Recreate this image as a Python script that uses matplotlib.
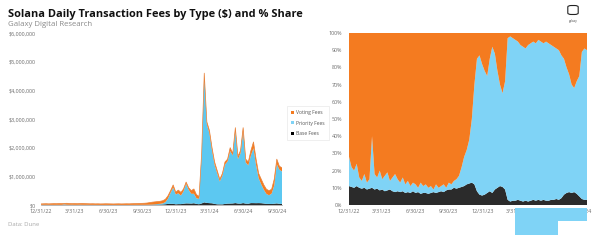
import matplotlib
matplotlib.use('Agg')
import matplotlib.pyplot as plt
from matplotlib.patches import Patch, Rectangle, FancyBboxPatch
from matplotlib.ticker import FuncFormatter
import numpy as np
import pandas as pd

plt.rcParams['font.family'] = ['Open Sans', 'DejaVu Sans']

# ---------------- data (weekly) ----------------
start_date = '2022-12-31'
n_weeks = 94

# total daily fees, thousands of USD
total_fees_k = [
    38, 42, 45, 40, 44, 48, 46, 52, 50, 55,
    60, 52, 48, 50, 46, 52, 55, 48, 45, 42,
    44, 40, 42, 38, 40, 43, 41, 39, 37, 40,
    42, 38, 40, 43, 41, 45, 48, 52, 55, 58,
    62, 70, 85, 100,
    110, 120, 130, 150, 200,
    320, 500, 700, 450, 520, 440,
    560, 800, 600, 500, 560, 360, 300,
    1800, 4600, 2900, 2600, 2000, 1500, 1200, 900,
    1100, 1500, 1600, 2000, 1800, 2700, 1700, 1900, 2700, 1600,
    1500, 1900, 2200, 1600,
    1100, 900, 700, 550, 500, 550,
    900, 1600, 1350, 1300,
]

# base fee share of total (%)
base_share = [
    11, 10.5, 10, 11, 10, 9.5, 10, 9, 9.5, 10,
    9, 9.5, 8.5, 9, 8, 8.5, 9, 8, 7.5, 8,
    7.5, 8, 7, 7.5, 7, 8, 7, 7.5, 6.5, 7,
    7, 6.5, 7, 7.5, 7, 7.5, 8, 7.5, 8.5, 9,
    9, 10, 9.5, 10,
    10.5, 11, 12, 12.5, 13,
    12, 8, 6, 5.5, 6, 7,
    8, 7, 9, 10, 11, 10.5, 9,
    3, 2, 2.5, 2.5, 3, 2.5, 2, 2.5,
    2, 2.5, 3, 2.5, 3, 2.5, 3, 2.5, 2.5, 3,
    3, 3.5, 3, 4,
    6, 7, 7.5, 7, 7.5, 6.5,
    5, 3.5, 3, 3,
]

# base + priority share of total (%), i.e. non-voting share
nonvoting_share = [
    28, 22, 20, 24, 16, 14, 18, 13, 15, 40,
    18, 16, 20, 15, 17, 19, 14, 16, 18, 15,
    13, 16, 12, 14, 11, 13, 12, 10, 13, 11,
    12, 10, 11, 9, 12, 10, 11, 12, 10, 13,
    12, 14, 15, 17,
    22, 28, 32, 38, 50,
    70, 85, 87, 82, 78, 75,
    85, 92, 88, 78, 70, 65, 72,
    97, 98, 97, 96, 95, 93, 92, 91,
    93, 94, 95, 94, 96, 95, 94, 95, 94, 93,
    92, 91, 90, 87,
    85, 80, 76, 70, 68, 72,
    75, 89, 91, 90,
]

series_names = ['Voting Fees', 'Priority Fees', 'Base Fees']
left_ticks = ['12/31/22', '3/31/23', '6/30/23', '9/30/23',
              '12/31/23', '3/31/24', '6/30/24', '9/30/24']
y_ticks_usd = [0, 1e6, 2e6, 3e6, 4e6, 5e6, 6e6]
y_ticks_pct = [0, 10, 20, 30, 40, 50, 60, 70, 80, 90, 100]

# ---------------- derived ----------------
dates = pd.date_range(start_date, periods=n_weeks, freq='7D')
total = np.array(total_fees_k, dtype=float) * 1000
bs = np.array(base_share, dtype=float)
nv = np.array(nonvoting_share, dtype=float)
base = total * bs / 100
priority = total * (nv - bs) / 100
voting = total * (100 - nv) / 100
pct_base = bs
pct_prio = nv - bs
pct_vote = 100 - nv

ORANGE = '#F47B20'
BLUE_L = '#5CC8F1'
BLUE_R = '#7FD3F6'
DARK = '#2B2B2B'
GRAY = '#6b6b6b'

W, H = 600, 241
fig = plt.figure(figsize=(6, 2.41), dpi=100)

def fx(px):
    return px / W

def fy(py):
    return 1 - py / H

# title and texts
fig.text(fx(8), fy(14), 'Solana Daily Transaction Fees by Type ($) and % Share',
         fontsize=7.9, fontweight='bold', color='#111111', va='center', ha='left')
fig.text(fx(8), fy(24), 'Galaxy Digital Research', fontsize=5.6, color='#8a8a8a',
         va='center', ha='left')
fig.text(fx(8), fy(224), 'Data: Dune', fontsize=4.3, color='#a8a8a8',
         va='center', ha='left')

# logo
fig.patches.append(FancyBboxPatch((fx(569), fy(14)), fx(8), 8 / H,
                                  boxstyle='round,pad=0.002,rounding_size=0.006',
                                  transform=fig.transFigure, fill=False,
                                  edgecolor='#222222', linewidth=0.8))
fig.text(fx(573), fy(21), 'galaxy', fontsize=2.2, color='#444444',
         ha='center', va='center')

tick_dates = pd.to_datetime(left_ticks, format='%m/%d/%y')
x0, x1 = dates[0], dates[-1]

# ---------------- left chart ----------------
axL = fig.add_axes([fx(41), fy(205), fx(282) - fx(41), fy(33) - fy(205)])
axL.stackplot(dates, base, priority, voting,
              colors=[DARK, BLUE_L, ORANGE], linewidth=0)
axL.plot(dates, total, color='#E8823A', linewidth=0.5)
axL.set_xlim(x0, x1)
axL.set_ylim(0, 6e6)
axL.set_yticks(y_ticks_usd)
axL.yaxis.set_major_formatter(FuncFormatter(lambda v, p: '${:,.0f}'.format(v)))
axL.set_xticks(tick_dates)
axL.set_xticklabels(left_ticks)
for s in ['top', 'right', 'left']:
    axL.spines[s].set_visible(False)
axL.spines['bottom'].set_color('#999999')
axL.spines['bottom'].set_linewidth(0.5)
axL.tick_params(axis='both', length=0, labelsize=3.9, labelcolor=GRAY)
axL.tick_params(axis='x', pad=3)
axL.tick_params(axis='y', pad=4)

handles = [Patch(facecolor=ORANGE, edgecolor='none'),
           Patch(facecolor=BLUE_R, edgecolor='none'),
           Patch(facecolor='#000000', edgecolor='none')]
leg = fig.legend(handles, series_names, loc='upper left',
                 bbox_to_anchor=(fx(287), fy(106)), fontsize=3.6,
                 frameon=True, fancybox=False, edgecolor='#dddddd',
                 handlelength=0.6, handleheight=0.6, handletextpad=0.5,
                 labelspacing=1.1, borderpad=0.8, borderaxespad=0)
leg.get_frame().set_linewidth(0.4)
for t in leg.get_texts():
    t.set_color('#555555')

# ---------------- right chart ----------------
axR = fig.add_axes([fx(349), fy(205), fx(587) - fx(349), fy(33) - fy(205)])
axR.stackplot(dates, pct_base, pct_prio, pct_vote,
              colors=[DARK, BLUE_R, ORANGE], linewidth=0)
axR.set_xlim(x0, x1)
axR.set_ylim(0, 100)
axR.set_yticks(y_ticks_pct)
axR.yaxis.set_major_formatter(FuncFormatter(lambda v, p: '{:.0f}%'.format(v)))
axR.set_xticks(tick_dates)
axR.set_xticklabels(left_ticks)
for s in axR.spines.values():
    s.set_visible(False)
axR.tick_params(axis='both', length=0, labelsize=3.9, labelcolor=GRAY)
axR.tick_params(axis='x', pad=3)
axR.tick_params(axis='y', pad=5)

# overlapping light-blue image fragment below the right chart
fig.patches.append(Rectangle((fx(515), fy(235)), fx(558) - fx(515), (235 - 208) / H,
                             transform=fig.transFigure, facecolor=BLUE_R,
                             edgecolor='none', zorder=5))
fig.patches.append(Rectangle((fx(557), fy(221)), fx(587) - fx(557), (221 - 208) / H,
                             transform=fig.transFigure, facecolor=BLUE_R,
                             edgecolor='none', zorder=5))

fig.savefig('out.png', dpi=100)
